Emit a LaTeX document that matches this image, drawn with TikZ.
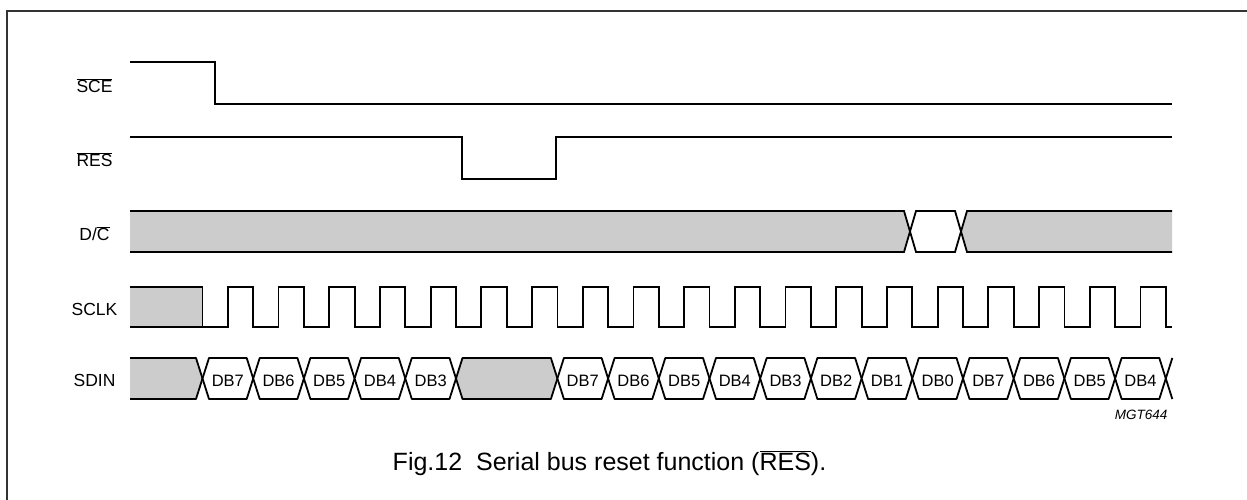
\documentclass[tikz,border=0pt]{standalone}
\usepackage{fontspec}
\setmainfont{Liberation Sans}
\newcommand{\ovr}[1]{$\overline{\mbox{#1}}$}
\definecolor{busgray}{RGB}{204,204,204}

\begin{document}
\begin{tikzpicture}[x=1pt, y=-1pt,
   sig/.style={line width=1.8pt},
   cell/.style={line width=1.8pt, line join=round},
   lbl/.style={anchor=base, font=\fontsize{17.5}{20}\selectfont},
   dbtext/.style={anchor=base, font=\fontsize{16.5}{20}\selectfont}]
   \useasboundingbox (0,0) rectangle (1247,500);
   \def\xo{202.5} \def\pp{50.7} \def\hw{6.5}
   % frame
   \draw[line width=1.3pt, black!80] (7,500) -- (7,11) -- (1247,11);
   % signal names
   \node[lbl] (sce) at (94.5,92.7) {\ovr{SCE}};
   \node[lbl] (res) at (94.5,166.7) {\ovr{RES}};
   \node[lbl] (dc) at (94.5,240.7) {D/\ovr{C}};
   \node[lbl] (sclk) at (94.5,315.7) {SCLK};
   \node[lbl] (sdin) at (94.5,386.7) {SDIN};
   % SCE and RES
   \draw[sig] (130,62) -- (215,62) -- (215,104) -- (1172,104);
   \draw[sig] (130,137) -- (461.7,137) -- (461.7,179) -- (556,179) -- (556,137) -- (1172,137);
   % D/C
   \fill[busgray] (130,211) -- (904,211) -- (910,231.5) -- (904,252) -- (130,252) -- cycle;
   \fill[busgray] (1172,211) -- (967,211) -- (961,231.5) -- (967,252) -- (1172,252) -- cycle;
   \draw[sig] (130,211) -- (904,211) -- (916,252) -- (955,252) -- (967,211) -- (1172,211);
   \draw[sig] (130,252) -- (904,252) -- (916,211) -- (955,211) -- (967,252) -- (1172,252);
   % SCLK
   \fill[busgray] (130,287) rectangle (\xo,327);
   \draw[sig] (130,287) -- (\xo,287) -- (\xo,327);
   \draw[sig] (130,327) \foreach \k in {0,...,18} {
      -- ({\xo+(\k+.5)*\pp},327) -- ({\xo+(\k+.5)*\pp},287)
      -- ({\xo+(\k+1)*\pp},287) -- ({\xo+(\k+1)*\pp},327)} -- (1172,327);
   % SDIN
   \fill[busgray] (130,358) -- ({\xo-\hw},358) -- (\xo,378.5) -- ({\xo-\hw},399) -- (130,399) -- cycle;
   \draw[cell] (130,358) -- ({\xo-\hw},358) -- (\xo,378.5) -- ({\xo-\hw},399) -- (130,399);
   \draw[cell, fill=busgray] ({\xo+5*\pp},378.5) -- ++(\hw,-20.5) -- ({\xo+7*\pp-\hw},358)
      -- ({\xo+7*\pp},378.5) -- ({\xo+7*\pp-\hw},399) -- ({\xo+5*\pp+\hw},399) -- cycle;
   \foreach \k/\b in {0/7,1/6,2/5,3/4,4/3,7/7,8/6,9/5,10/4,11/3,12/2,13/1,14/0,15/7,16/6,17/5,18/4} {
      \draw[cell, fill=white] ({\xo+\k*\pp},378.5) -- ++(\hw,-20.5) -- ({\xo+(\k+1)*\pp-\hw},358)
         -- ({\xo+(\k+1)*\pp},378.5) -- ({\xo+(\k+1)*\pp-\hw},399) -- ({\xo+\k*\pp+\hw},399) -- cycle;
      \node[dbtext] (db\k) at ({\xo+(\k+.5)*\pp},386) {DB\b};
   }
   \draw[cell] ({\xo+19*\pp+\hw},358) -- ({\xo+19*\pp},378.5) -- ({\xo+19*\pp+\hw},399);
   % figure code and caption
   \node[anchor=base east, font=\fontsize{13.5}{16}\selectfont\itshape] (code) at (1171,419) {MGT644};
   \node[anchor=base, font=\fontsize{25}{30}\selectfont] (caption) at (609.5,470) {Fig.12~~Serial bus reset function (\ovr{RES}).};
\end{tikzpicture}
\end{document}
